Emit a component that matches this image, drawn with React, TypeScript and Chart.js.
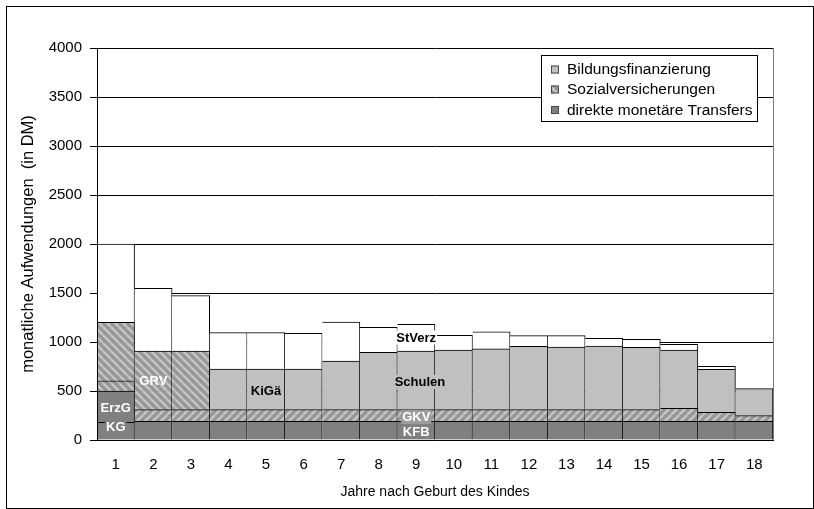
import React, { useEffect, useRef } from "react";
import { Chart, registerables } from "chart.js";

Chart.register(...registerables);

// Jahre nach Geburt des Kindes
const years = ["1", "2", "3", "4", "5", "6", "7", "8", "9", "10", "11", "12", "13", "14", "15", "16", "17", "18"];

// monatliche Aufwendungen in DM, je Komponente
const kindergeld = [180, 190, 190, 190, 190, 190, 190, 190, 190, 190, 190, 190, 190, 190, 190, 190, 190, 190];
const erziehungsgeld = [320, null, null, null, null, null, null, null, null, null, null, null, null, null, null, null, null, null];
const krankenversicherung = [105, 120, 120, 120, 120, 120, 120, 120, 120, 120, 120, 120, 120, 120, 120, 133, 92, 58];
const rentenversicherung = [595, 598, 598, null, null, null, null, null, null, null, null, null, null, null, null, null, null, null];
const bildung = [null, null, null, 414, 414, 414, 496, 585, 598, 608, 620, 646, 639, 649, 636, 595, 439, 276];
const steuerverzicht = [800, 640, 565, 371, 371, 365, 398, 255, 272, 150, 175, 109, 116, 78, 81, 59, 31, null];

const legendLabels = ["Bildungsfinanzierung", "Sozialversicherungen", "direkte monetäre Transfers"];

const FONT = "'Liberation Sans', Arial, Helvetica, sans-serif";
const DARK = "#808080";
const LIGHT = "#c0c0c0";
const HATCH_BASE = "#969696";
const HATCH_STRIPE = "#c6c6c6";

function makeHatch(dir: 1 | -1): CanvasPattern | string {
  const c = document.createElement("canvas");
  c.width = 8;
  c.height = 8;
  const g = c.getContext("2d");
  if (!g) return HATCH_BASE;
  g.fillStyle = HATCH_BASE;
  g.fillRect(0, 0, 8, 8);
  g.strokeStyle = HATCH_STRIPE;
  g.lineWidth = 2.4;
  for (const k of [-8, 0, 8]) {
    g.beginPath();
    if (dir === 1) {
      g.moveTo(k, 0);
      g.lineTo(k + 8, 8);
    } else {
      g.moveTo(k, 8);
      g.lineTo(k + 8, 0);
    }
    g.stroke();
  }
  return g.createPattern(c, "repeat") || HATCH_BASE;
}

export default function App() {
  const canvasRef = useRef<HTMLCanvasElement | null>(null);

  useEffect(() => {
    const canvas = canvasRef.current;
    if (!canvas) return;

    const back = makeHatch(1);
    const fwd = makeHatch(-1);

    // text labels placed on individual segments (category index, value position)
    const segmentLabels = [
      { text: "KG", index: 0, value: 133, color: "#ffffff", bg: DARK },
      { text: "ErzG", index: 0, value: 327, color: "#ffffff", bg: DARK },
      { text: "GRV", index: 1, value: 602, color: "#ffffff", bg: null },
      { text: "KiGä", index: 4, value: 500, color: "#000000", bg: LIGHT },
      { text: "Schulen", index: 8.1, value: 592, color: "#000000", bg: LIGHT },
      { text: "StVerz", index: 8, value: 1046, color: "#000000", bg: "#ffffff" },
      { text: "GKV", index: 8, value: 235, color: "#ffffff", bg: "#9c9c9c" },
      { text: "KFB", index: 8, value: 82, color: "#ffffff", bg: DARK },
    ];

    const labelPlugin = {
      id: "segmentLabels",
      afterDatasetsDraw(chart: any) {
        const { ctx, scales } = chart;
        const xs = scales.x;
        const ys = scales.y;
        ctx.save();
        ctx.font = `bold 13px ${FONT}`;
        ctx.textAlign = "center";
        ctx.textBaseline = "middle";
        for (const l of segmentLabels) {
          const px = xs.getPixelForValue(l.index);
          const py = ys.getPixelForValue(l.value);
          const w = ctx.measureText(l.text).width;
          if (l.bg) {
            ctx.fillStyle = l.bg;
            ctx.fillRect(px - w / 2 - 1, py - 7, w + 2, 14);
          }
          ctx.fillStyle = l.color;
          ctx.fillText(l.text, px, py + 0.5);
        }
        ctx.restore();
      },
    };

    const framePlugin = {
      id: "areaFrame",
      afterDatasetsDraw(chart: any) {
        const { ctx, chartArea } = chart;
        ctx.save();
        ctx.strokeStyle = "#7a7a7a";
        ctx.lineWidth = 1;
        ctx.beginPath();
        ctx.moveTo(Math.round(chartArea.right) + 0.5, chartArea.top);
        ctx.lineTo(Math.round(chartArea.right) + 0.5, chartArea.bottom);
        ctx.stroke();
        ctx.restore();
      },
    };

    const legendPlugin = {
      id: "boxLegend",
      afterDraw(chart: any) {
        const { ctx, chartArea } = chart;
        const right = chartArea.right - 16;
        const left = right - 216;
        const top = chartArea.top + 7;
        const h = 66;
        ctx.save();
        ctx.fillStyle = "#ffffff";
        ctx.fillRect(left, top, right - left, h);
        ctx.strokeStyle = "#000000";
        ctx.lineWidth = 1;
        ctx.strokeRect(left + 0.5, top + 0.5, right - left, h);
        const fills: (string | CanvasPattern)[] = [LIGHT, back, DARK];
        const rows = [14.5, 34.5, 55];
        ctx.font = `15.5px ${FONT}`;
        ctx.textBaseline = "middle";
        ctx.textAlign = "left";
        legendLabels.forEach((t, i) => {
          const cy = top + rows[i];
          ctx.fillStyle = fills[i];
          ctx.fillRect(left + 10, cy - 4, 8, 8);
          ctx.strokeStyle = "#4a4a4a";
          ctx.strokeRect(left + 10.5, cy - 3.5, 7, 7);
          ctx.fillStyle = "#000000";
          ctx.fillText(t, left + 26, cy + 0.5);
        });
        ctx.restore();
      },
    };

    const common = {
      borderColor: "#000000",
      borderWidth: { top: 1, right: 1, bottom: 0, left: 0 },
      borderSkipped: false,
      barPercentage: 1,
      categoryPercentage: 1,
      stack: "s",
    };

    const chart = new Chart(canvas, {
      type: "bar",
      data: {
        labels: years,
        datasets: [
          { ...common, label: "KG / KFB", data: kindergeld, backgroundColor: DARK },
          { ...common, label: "ErzG", data: erziehungsgeld, backgroundColor: DARK },
          {
            ...common,
            label: "GKV",
            data: krankenversicherung,
            backgroundColor: years.map((_, i) => (i === 0 ? back : fwd)),
          },
          { ...common, label: "GRV", data: rentenversicherung, backgroundColor: back },
          { ...common, label: "Bildungsfinanzierung", data: bildung, backgroundColor: LIGHT },
          { ...common, label: "StVerz", data: steuerverzicht, backgroundColor: "#ffffff" },
        ] as any,
      },
      options: {
        animation: false,
        responsive: true,
        maintainAspectRatio: false,
        events: [],
        layout: { padding: { top: 41, right: 40, bottom: 0, left: 0 } },
        plugins: {
          legend: { display: false },
          tooltip: { enabled: false },
        },
        scales: {
          x: {
            stacked: true,
            grid: { display: false, drawTicks: false },
            border: { display: true, color: "#000000", width: 1, z: 1 },
            ticks: { color: "#000000", font: { family: FONT, size: 15 }, padding: 16 },
            title: {
              display: true,
              text: "Jahre nach Geburt des Kindes",
              color: "#000000",
              font: { family: FONT, size: 14 },
              padding: { top: 0, bottom: 7 },
            },
            afterFit(scale: any) {
              scale.height = 68;
            },
          },
          y: {
            stacked: true,
            min: 0,
            max: 4000,
            ticks: {
              stepSize: 500,
              color: "#000000",
              font: { family: FONT, size: 15 },
              padding: 8,
              callback: (v: any) => String(v),
            },
            grid: { color: "#000000", lineWidth: 1, drawTicks: true, tickLength: 7, tickColor: "#000000" },
            border: { display: true, color: "#000000", width: 1, z: 1 },
            title: {
              display: true,
              text: "monatliche Aufwendungen  (in DM)",
              color: "#000000",
              font: { family: FONT, size: 16.5 },
              padding: { top: 12, bottom: 0 },
            },
            afterFit(scale: any) {
              scale.width = 90;
            },
          },
        },
      },
      plugins: [labelPlugin, framePlugin, legendPlugin],
    } as any);

    return () => chart.destroy();
  }, []);

  return (
    <div
      style={{
        position: "absolute",
        left: 6,
        top: 6,
        width: 808,
        height: 503,
        border: "1px solid #000",
        boxSizing: "border-box",
        background: "#fff",
      }}
    >
      <canvas ref={canvasRef} />
    </div>
  );
}
